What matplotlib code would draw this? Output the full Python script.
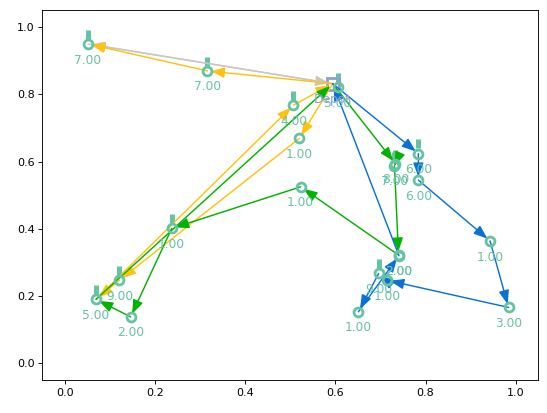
import numpy as np
import matplotlib.pyplot as plt
from matplotlib.patches import FancyArrowPatch

# depot
depot_x, depot_y = 0.594, 0.832

# customers: name, x, y, label, has bar
names = ['c1', 'c2', 'c3', 'c4', 'c5', 'c6', 'c6b', 'c7', 'c8', 'c9', 'c10',
         'c11', 'c11b', 'c12', 'c13', 'c14', 'c15', 'c16', 'c17', 'c18', 'c19']
cx = [0.051, 0.316, 0.507, 0.520, 0.523, 0.733, 0.731, 0.784, 0.784, 0.943, 0.984,
      0.740, 0.741, 0.696, 0.714, 0.651, 0.237, 0.121, 0.069, 0.146, 0.605]
cy = [0.950, 0.870, 0.768, 0.669, 0.525, 0.594, 0.588, 0.624, 0.545, 0.364, 0.166,
      0.322, 0.320, 0.267, 0.247, 0.153, 0.401, 0.247, 0.190, 0.138, 0.822]
labels = ['7.00', '7.00', '4.00', '1.00', '1.00', '8.00', '7.00', '6.00', '6.00', '1.00', '3.00',
          '2.00', '2.00', '9.00', '1.00', '1.00', '1.00', '9.00', '5.00', '2.00', '5.00']
has_bar = [1, 1, 1, 0, 0, 1, 1, 1, 0, 0, 0,
           0, 0, 1, 0, 0, 1, 1, 1, 0, 1]

# routes (sequence of stops), D = depot
route_blue = ['D', 'c7', 'c8', 'c9', 'c10', 'c13', 'c12', 'c14', 'c11b', 'D']
route_green = ['D', 'c6', 'c6b', 'c11', 'c5', 'c15', 'c18', 'c17', 'D']
route_gold_a = ['D', 'c4', 'c16', 'c17', 'c3', 'D']
route_gold_b = ['D', 'c2', 'c1']
route_gray = ['D', 'c1', 'D']

route_colors = {'blue': '#0a72d6', 'green': '#00b300', 'gold': '#ffc20e', 'gray': '#cbc6c0'}
cust_color = '#66c2a5'
depot_color = '#8da0cb'

pos = {'D': (depot_x, depot_y)}
for n, x, y in zip(names, cx, cy):
    pos[n] = (x, y)

fig = plt.figure(figsize=(547 / 80, 413 / 80), dpi=80)
ax = fig.add_axes([42.3 / 547, 33.0 / 413, 496 / 547, 369.6 / 413])


def draw_route(route, color):
    for a, b in zip(route[:-1], route[1:]):
        arr = FancyArrowPatch(pos[a], pos[b],
                              arrowstyle='-|>,head_length=0.8,head_width=0.3',
                              mutation_scale=13, color=color, lw=1.3,
                              shrinkA=0, shrinkB=3, zorder=2)
        ax.add_patch(arr)


draw_route(route_gray, route_colors['gray'])
draw_route(route_gold_b, route_colors['gold'])
draw_route(route_gold_a, route_colors['gold'])
draw_route(route_green, route_colors['green'])
draw_route(route_blue, route_colors['blue'])

# customer bars
bx = [x for x, b in zip(cx, has_bar) if b]
by = [y for y, b in zip(cy, has_bar) if b]
ax.vlines(bx, np.array(by) + 0.016, np.array(by) + 0.042, color=cust_color, lw=4.5, zorder=1)

# customers
ax.plot(cx, cy, 'o', ms=8, mew=2.5, mfc='none', mec=cust_color, zorder=3)
for x, y, t in zip(cx, cy, labels):
    ax.annotate(t, (x, y), xytext=(0, -14.5), textcoords='offset points',
                ha='center', va='center', color=cust_color, fontsize=11)

# depot
ax.plot([depot_x], [depot_y], 's', ms=11, mew=2.5, mfc='none', mec=depot_color, zorder=1)
ax.annotate('Depot', (depot_x, depot_y), xytext=(0, -14.5), textcoords='offset points',
            ha='center', va='center', color=depot_color, fontsize=11)

ax.set_xlim(-0.05, 1.05)
ax.set_ylim(-0.05, 1.05)

fig.savefig('out.png', dpi=80)
